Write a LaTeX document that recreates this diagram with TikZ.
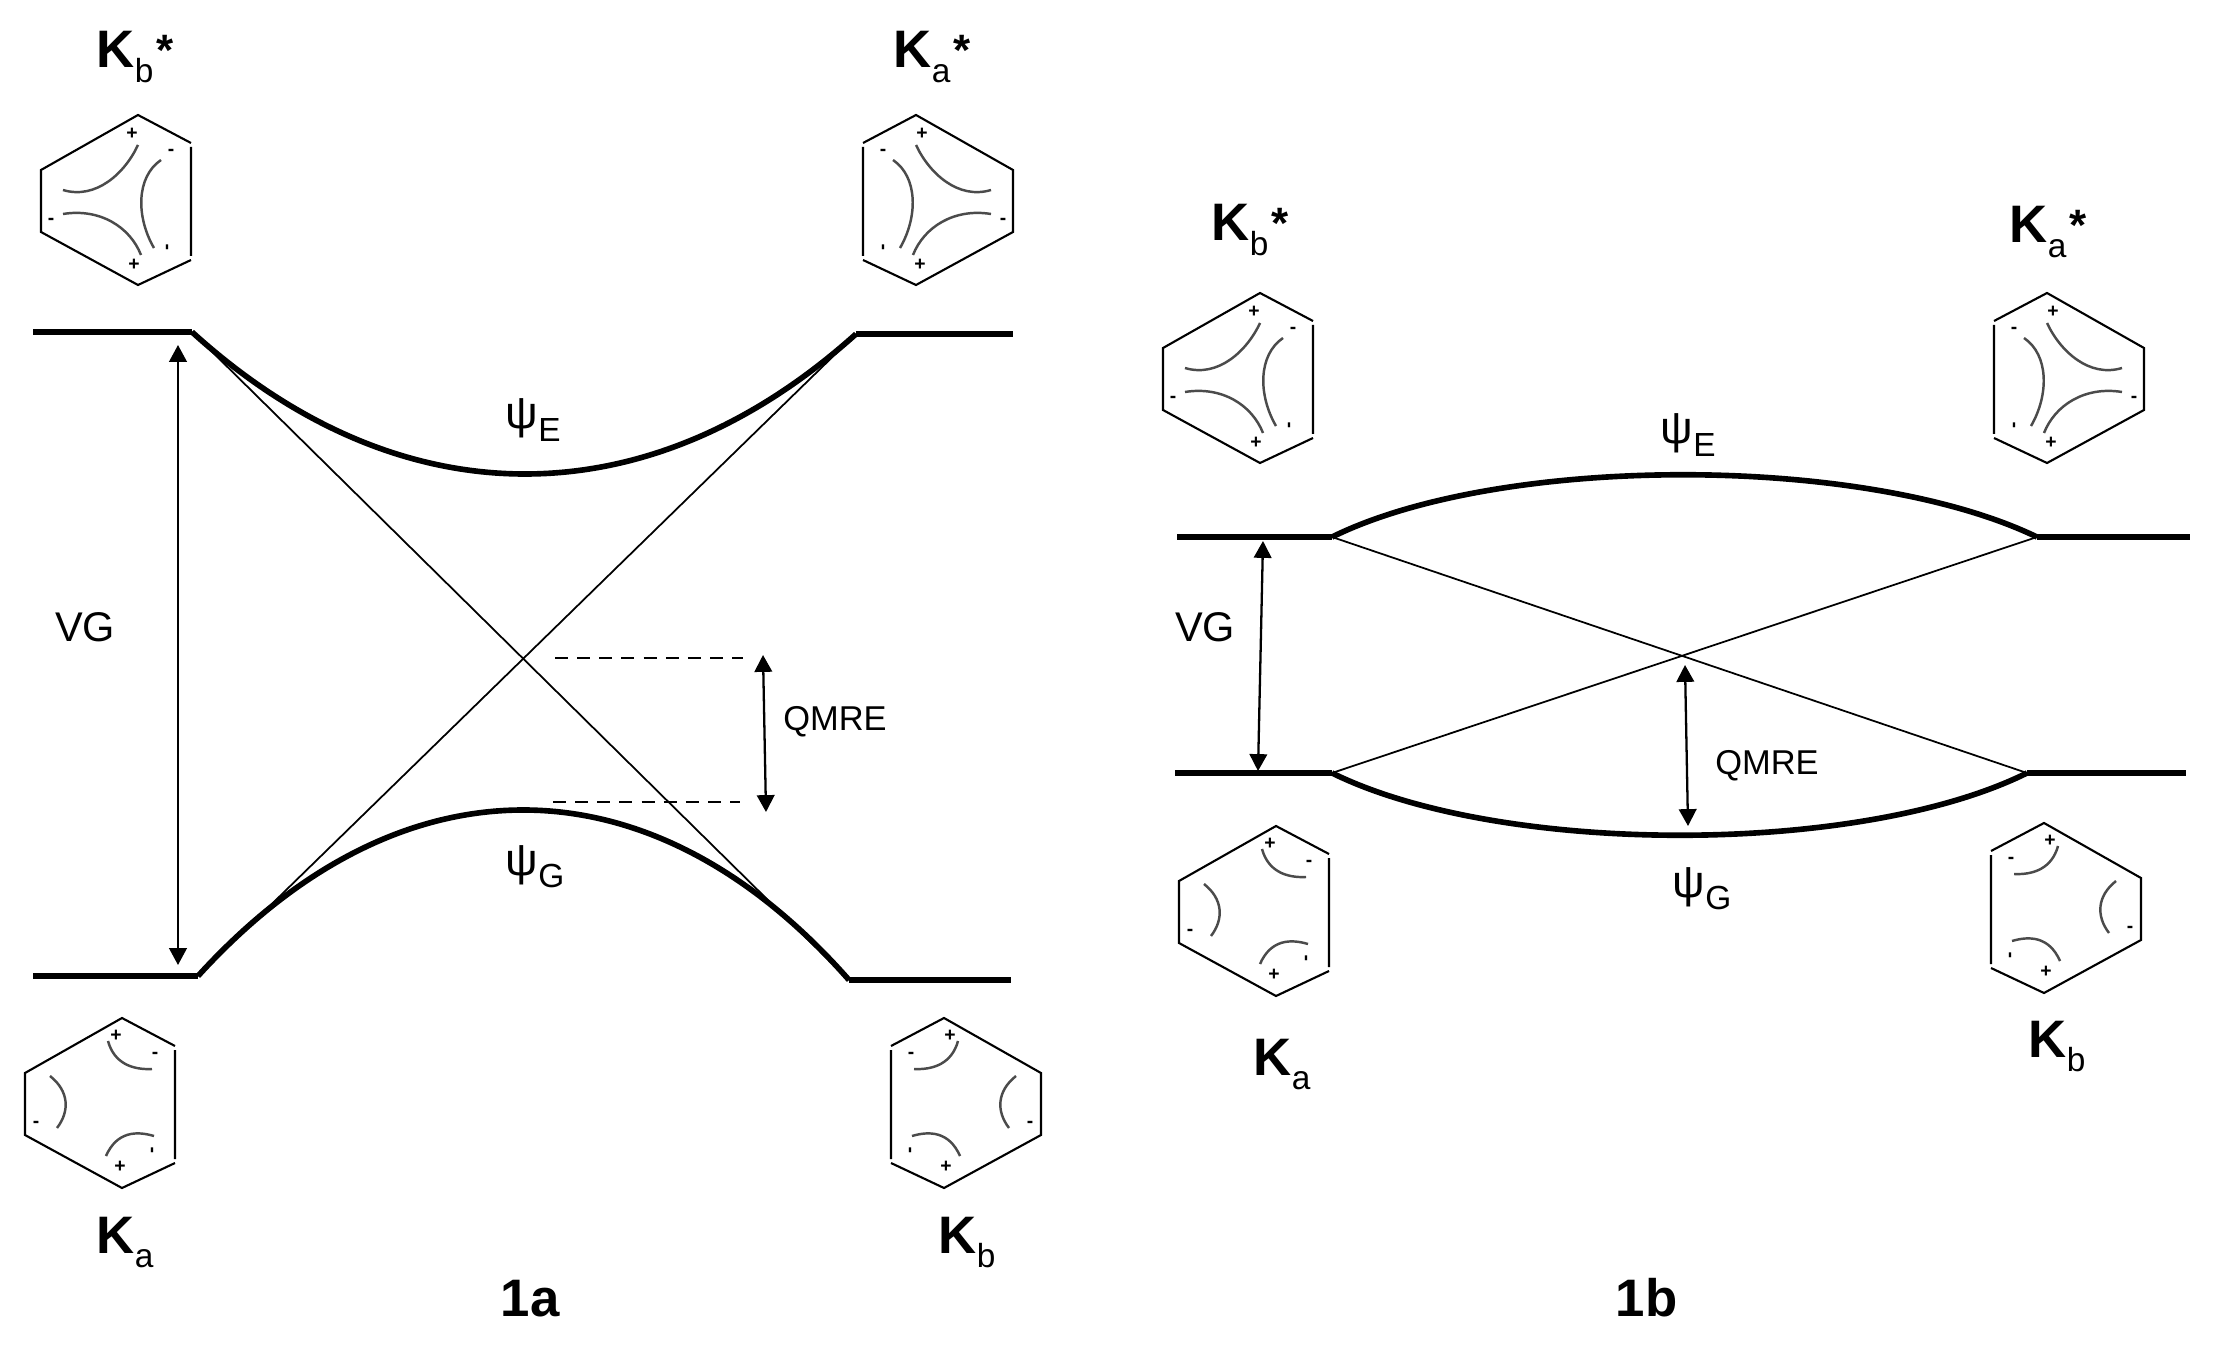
\documentclass[tikz,border=0pt]{standalone}
\usepackage{fontspec}
\setmainfont{Liberation Sans}
\usepackage{xcolor}
\usetikzlibrary{arrows.meta, positioning}
\definecolor{arcgray}{RGB}{75,75,75}
\newcommand{\klabel}[1]{\fontsize{15}{15}\selectfont\textbf{K}\raisebox{-4.2pt}{\fontsize{9.5}{9.5}\selectfont #1}}
\newcommand{\kstar}{\hspace{0.8pt}\raisebox{0.6pt}{\fontsize{12.5}{12.5}\selectfont\textbf{*}}}
\newcommand{\psilabel}[1]{\fontsize{13}{13}\selectfont ψ\raisebox{-3.6pt}{\fontsize{9.5}{9.5}\selectfont #1}}
\newcommand{\hexring}{\draw[hexedge] (53,145) -- (0,170) -- (-97,117) -- (-97,55) -- (0,0) -- (53,28) (53,32) -- (53,141);}
\tikzset{
  hexedge/.style={black, line width=0.6pt},
  hexarc/.style={arcgray, line width=0.7pt},
  charge/.style={inner sep=0pt, font=\fontsize{5.5}{5.5}\selectfont\bfseries},
  hexexcited/.pic={
    \hexring
    \draw[hexarc] (0,30) .. controls (-13,58) and (-42,85) .. (-75,75);
    \draw[hexarc] (-75,99) .. controls (-38,93) and (-8,112) .. (3,140);
    \draw[hexarc] (23,45) .. controls (-2,62) and (-2,102) .. (16,133);
    \node[charge] (p1) at (-6,19) {+};
    \node[charge] (p2) at (-4,150) {+};
    \node[charge] (m1) at (33,37) {-};
    \node[charge] (m2) at (-87,106) {-};
    \node[charge, rotate=90] (m3) at (31,132) {-};
  },
  hexground/.pic={
    \hexring
    \draw[hexarc] (-14,23) .. controls (-8,45) and (10,52) .. (30,51);
    \draw[hexarc] (-72,58) .. controls (-53,73) and (-52,93) .. (-65,110);
    \draw[hexarc] (-16,138) .. controls (-5,113) and (15,113) .. (32,118);
    \node[charge] (p1) at (-6,18) {+};
    \node[charge] (p2) at (-2,149) {+};
    \node[charge] (m1) at (33,37) {-};
    \node[charge] (m2) at (-86,106) {-};
    \node[charge, rotate=90] (m3) at (32,132) {-};
  },
}

\begin{document}
\begin{tikzpicture}[x=0.01cm, y=-0.01cm,
    level/.style={line width=1.45pt},
    curve/.style={line width=1.6pt},
    thinline/.style={line width=0.5pt},
    dashline/.style={line width=0.6pt, dash pattern=on 3.7pt off 2.6pt},
    gaparrow/.style={line width=0.65pt, {Triangle[length=4.8pt,width=5pt]}-{Triangle[length=4.8pt,width=5pt]}},
    txt/.style={inner sep=0pt, font=\fontsize{9.8}{9.8}\selectfont},
    vgtxt/.style={inner sep=0pt, font=\fontsize{11.8}{11.8}\selectfont},
    lbl/.style={inner sep=0pt, anchor=base west}]
  \useasboundingbox (0,0) rectangle (2218,1349);

  % panel 1a: level ends
  \coordinate (aTL) at (33,332);
  \coordinate (aTl) at (192,332);
  \coordinate (aTr) at (856,334);
  \coordinate (aTR) at (1013,334);
  \coordinate (aBL) at (33,976);
  \coordinate (aBl) at (198,976);
  \coordinate (aBr) at (849,980);
  \coordinate (aBR) at (1011,980);
  \draw[level] (aTL) -- (aTl);
  \draw[level] (aTr) -- (aTR);
  \draw[level] (aBL) -- (aBl);
  \draw[level] (aBr) -- (aBR);
  % panel 1a: curves
  \draw[curve] (aTl) .. controls (400,521) and (648,521) .. (aTr);
  \draw[curve] (aBl) .. controls (400,754) and (650,754) .. (aBr);
  \draw[thinline] (aTl) -- (aBr);
  \draw[thinline] (aBl) -- (aTr);
  % panel 1a: gaps
  \coordinate (aDa) at (555,658);
  \coordinate (aDb) at (743,658);
  \coordinate (aDc) at (553,802);
  \coordinate (aDd) at (740,802);
  \draw[dashline] (aDa) -- (aDb);
  \draw[dashline] (aDc) -- (aDd);
  \coordinate (aQt) at (763,655);
  \coordinate (aQb) at (766,812);
  \draw[gaparrow] (aQt) -- (aQb);
  \coordinate (aVt) at (178,345);
  \coordinate (aVb) at (178,965);
  \draw[gaparrow] (aVt) -- (aVb);
  \node[vgtxt] (aVG) at (85,627) {VG};
  \node[txt] (aQMRE) at (835,722) {QMRE};
  \node[lbl] (aPsiE) at (505,429) {\psilabel{E}};
  \node[lbl] (aPsiG) at (505,875) {\psilabel{G}};
  % panel 1a: hexagons
  \pic (aKbs) at (138,115) {hexexcited};
  \pic[xscale=-1] (aKas) at (916,115) {hexexcited};
  \pic (aKa) at (122,1018) {hexground};
  \pic[xscale=-1] (aKb) at (944,1018) {hexground};
  \node[lbl] (aLbs) at (96,68) {\klabel{b}\kstar};
  \node[lbl] (aLas) at (893,68) {\klabel{a}\kstar};
  \node[lbl] (aLa) at (96,1253) {\klabel{a}};
  \node[lbl] (aLb) at (938,1253) {\klabel{b}};
  \node[lbl, font=\fontsize{15}{15}\selectfont\bfseries] (aTitle) at (500,1316) {1a};

  % panel 1b: level ends
  \coordinate (bTL) at (1177,537);
  \coordinate (bTl) at (1332,537);
  \coordinate (bTr) at (2037,537);
  \coordinate (bTR) at (2190,537);
  \coordinate (bBL) at (1175,773);
  \coordinate (bBl) at (1332,773);
  \coordinate (bBr) at (2027,773);
  \coordinate (bBR) at (2186,773);
  \draw[level] (bTL) -- (bTl);
  \draw[level] (bTr) -- (bTR);
  \draw[level] (bBL) -- (bBl);
  \draw[level] (bBr) -- (bBR);
  % panel 1b: curves
  \draw[curve] (bTl) .. controls (1500,454) and (1865,454) .. (bTr);
  \draw[curve] (bBl) .. controls (1500,856) and (1860,856) .. (bBr);
  \draw[thinline] (bTl) -- (bBr);
  \draw[thinline] (bBl) -- (bTr);
  % panel 1b: gaps
  \coordinate (bQt) at (1685,665);
  \coordinate (bQb) at (1688,826);
  \draw[gaparrow] (bQt) -- (bQb);
  \coordinate (bVt) at (1263,541);
  \coordinate (bVb) at (1258,771);
  \draw[gaparrow] (bVt) -- (bVb);
  \node[vgtxt] (bVG) at (1205,627) {VG};
  \node[txt] (bQMRE) at (1767,766) {QMRE};
  \node[lbl] (bPsiE) at (1660,444) {\psilabel{E}};
  \node[lbl] (bPsiG) at (1672,897) {\psilabel{G}};
  % panel 1b: hexagons
  \pic (bKbs) at (1260,293) {hexexcited};
  \pic[xscale=-1] (bKas) at (2047,293) {hexexcited};
  \pic (bKa) at (1276,826) {hexground};
  \pic[xscale=-1] (bKb) at (2044,823) {hexground};
  \node[lbl] (bLbs) at (1211,241) {\klabel{b}\kstar};
  \node[lbl] (bLas) at (2009,243) {\klabel{a}\kstar};
  \node[lbl] (bLa) at (1253,1075) {\klabel{a}};
  \node[lbl] (bLb) at (2028,1057) {\klabel{b}};
  \node[lbl, font=\fontsize{15}{15}\selectfont\bfseries] (bTitle) at (1615,1316) {1b};
\end{tikzpicture}
\end{document}
